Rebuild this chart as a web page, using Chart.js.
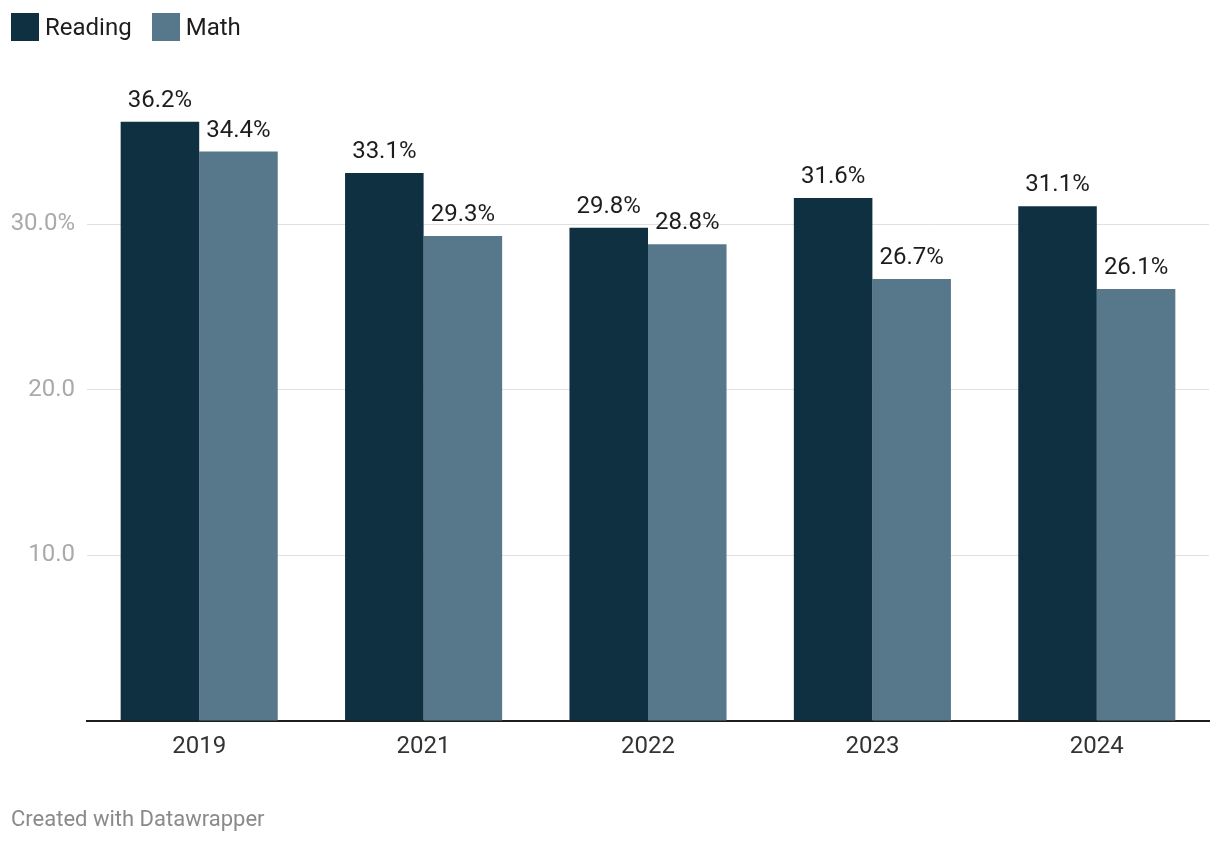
<!DOCTYPE html>
<html>
<head>
<meta charset="utf-8">
<script src="https://cdn.jsdelivr.net/npm/chart.js@4"></script>
<style>
  html, body { margin: 0; padding: 0; background: #fff; }
  body { width: 1220px; height: 844px; position: relative; overflow: hidden; font-family: Roboto, sans-serif; }
  #wrap { position: absolute; left: 0; top: 0; width: 1220px; height: 844px; }
  .legend { position: absolute; left: 11px; top: 13px; height: 28px; display: flex; align-items: center; font-size: 24px; color: #1d1d1d; }
  .legend .item { display: flex; align-items: center; margin-right: 20px; }
  .legend .sw { width: 28px; height: 28px; margin-right: 6px; }
  .footer { position: absolute; left: 11px; top: 806px; font-size: 22px; color: #8a8a8a; }
</style>
</head>
<body>
<div id="wrap"><canvas id="chart" width="1220" height="844"></canvas></div>
<div class="legend">
  <div class="item"><div class="sw" style="background:#0e3041"></div>Reading</div>
  <div class="item"><div class="sw" style="background:#57788a"></div>Math</div>
</div>
<div class="footer">Created with Datawrapper</div>
<script>
// Daten
const years = ["2019", "2021", "2022", "2023", "2024"];
const reading = [36.2, 33.1, 29.8, 31.6, 31.1];
const math = [34.4, 29.3, 28.8, 26.7, 26.1];
const yTicks = [0, 10, 20, 30];

// Werte-Labels über den Balken
const valueLabels = {
  id: "valueLabels",
  afterDatasetsDraw(chart) {
    const ctx = chart.ctx;
    ctx.save();
    ctx.font = "24px Roboto, sans-serif";
    ctx.fillStyle = "#1d1d1d";
    ctx.textAlign = "center";
    ctx.textBaseline = "alphabetic";
    chart.data.datasets.forEach((ds, i) => {
      chart.getDatasetMeta(i).data.forEach((bar, j) => {
        ctx.fillText(ds.data[j].toFixed(1) + "%", bar.x, bar.y - 15);
      });
    });
    ctx.restore();
  }
};

const ctx = document.getElementById("chart").getContext("2d");
new Chart(ctx, {
  type: "bar",
  data: {
    labels: years,
    datasets: [
      { label: "Reading", data: reading, backgroundColor: "#0e3041", borderWidth: 0 },
      { label: "Math", data: math, backgroundColor: "#57788a", borderWidth: 0 }
    ]
  },
  options: {
    responsive: false,
    animation: false,
    layout: { padding: { left: 0, right: 11, top: 92, bottom: 0 } },
    datasets: { bar: { categoryPercentage: 0.7, barPercentage: 1.0 } },
    plugins: {
      legend: { display: false },
      tooltip: { enabled: false }
    },
    scales: {
      x: {
        grid: { display: false, drawTicks: false },
        border: { display: true, color: "#1d1d1d", width: 2 },
        ticks: { color: "#333", font: { family: "Roboto", size: 24 }, padding: 12 },
        afterFit: (scale) => { scale.height = 123; }
      },
      y: {
        min: 0,
        max: 38,
        afterBuildTicks: (scale) => { scale.ticks = yTicks.map(v => ({ value: v })); },
        afterFit: (scale) => { scale.width = 87; },
        border: { display: false },
        grid: {
          drawTicks: false,
          color: (c) => c.tick.value === 0 ? "rgba(0,0,0,0)" : "#e0e0e0",
          lineWidth: 1
        },
        ticks: {
          color: "#aaa",
          padding: 12,
          font: { family: "Roboto", size: 24 },
          callback: (v) => v === 0 ? "" : (v === 30 ? v.toFixed(1) + "%" : v.toFixed(1))
        }
      }
    }
  },
  plugins: [valueLabels]
});
</script>
</body>
</html>
